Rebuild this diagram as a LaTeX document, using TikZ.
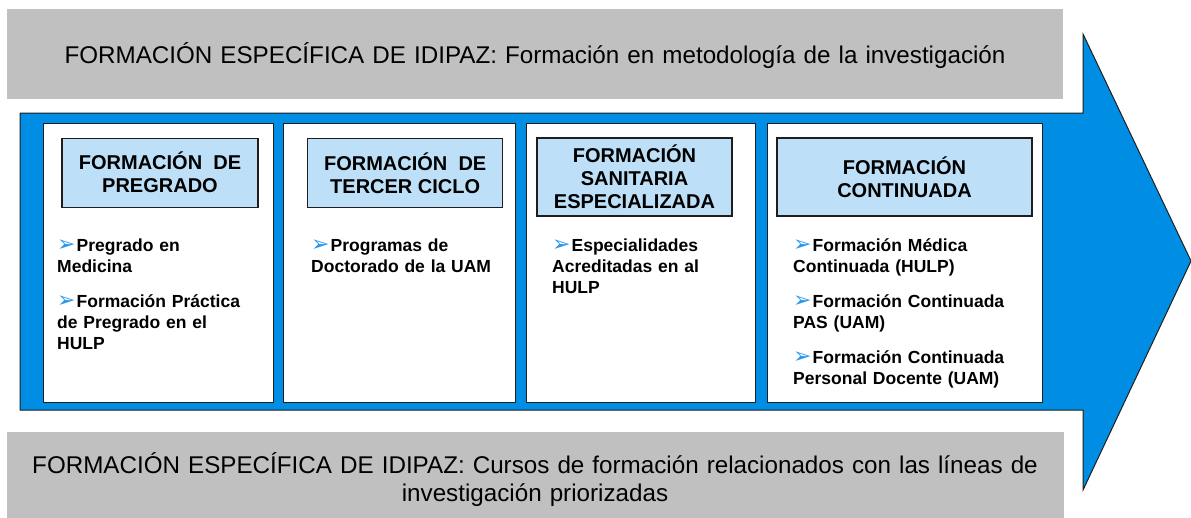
\documentclass[tikz,border=0pt]{standalone}
\usepackage{fontspec}
\setmainfont{Liberation Sans}
\newfontfamily\dejavu{DejaVu Sans}
\definecolor{arrowblue}{RGB}{0,142,228}
\definecolor{hdrblue}{RGB}{189,224,248}
\definecolor{bargray}{RGB}{192,192,192}
\definecolor{bulblue}{RGB}{40,150,235}
\definecolor{edge}{RGB}{30,30,30}
\newcommand{\bulmark}{{\dejavu\fontsize{22}{21}\selectfont\textcolor{bulblue}{➢}}\hspace{1pt}}
\tikzset{
  bar/.style={fill=bargray, draw=none, anchor=north west, inner sep=0},
  bartext/.style={anchor=base, inner sep=0, text width=1050pt, align=center,
    font=\fontsize{24.2}{28}\selectfont},
  panel/.style={draw=edge, line width=1.3pt, fill=white, anchor=north west, inner sep=0},
  hdr/.style={draw=edge, line width=1.3pt, fill=hdrblue, inner sep=0, align=center,
    font=\bfseries\fontsize{20}{23}\selectfont},
  bultext/.style={anchor=base west, inner sep=0, text width=250pt, align=left,
    font=\bfseries\fontsize{17.5}{21}\selectfont}
}
\begin{document}
\begin{tikzpicture}[x=1pt,y=-1pt]
\useasboundingbox (0,0) rectangle (1191,517);
% gray bars
\node[bar, minimum width=1056pt, minimum height=90pt] (topbar) at (7,9) {};
\node[bar, minimum width=1057pt, minimum height=86pt] (botbar) at (7,432) {};
\node[bartext] (toptext) at (535,63.5) {FORMACIÓN ESPECÍFICA DE IDIPAZ: Formación en metodología de la investigación};
\node[bartext] (bottext) at (535,473.3) {FORMACIÓN ESPECÍFICA DE IDIPAZ: Cursos de formación relacionados con las líneas de\\investigación priorizadas};
% arrow
\draw[fill=arrowblue, draw=edge, line width=1pt, line join=miter]
  (20,113) -- (1083,113) -- (1083,34) -- (1191,261) -- (1083,490) -- (1083,410) -- (20,410) -- cycle;
% panels
\node[panel, minimum width=230pt, minimum height=279pt] (p1) at (43,123) {};
\node[panel, minimum width=232pt, minimum height=279pt] (p2) at (283,123) {};
\node[panel, minimum width=229pt, minimum height=279pt] (p3) at (526,123) {};
\node[panel, minimum width=275pt, minimum height=279pt] (p4) at (767,123) {};
% headers
\node[hdr, minimum width=196pt, minimum height=69pt] (h1) at (160,172.7) {FORMACIÓN\ \ DE\\PREGRADO};
\node[hdr, minimum width=195pt, minimum height=69pt] (h2) at (405.2,172.8) {FORMACIÓN\ \ DE\\TERCER CICLO};
\node[hdr, minimum width=195pt, minimum height=78pt] (h3) at (634.5,177) {FORMACIÓN\\SANITARIA\\ESPECIALIZADA};
\node[hdr, minimum width=255pt, minimum height=78pt] (h4) at (904.5,177) {FORMACIÓN\\CONTINUADA};
% bullet texts
\node[bultext] (b1) at (57,251) {\bulmark Pregrado en\\Medicina\\[14pt]\bulmark Formación Práctica\\de Pregrado en el\\HULP};
\node[bultext] (b2) at (311,251) {\bulmark Programas de\\Doctorado de la UAM};
\node[bultext] (b3) at (552,251) {\bulmark Especialidades\\Acreditadas en al\\HULP};
\node[bultext] (b4) at (793,251) {\bulmark Formación Médica\\Continuada (HULP)\\[14pt]\bulmark Formación Continuada\\PAS (UAM)\\[14pt]\bulmark Formación Continuada\\Personal Docente (UAM)};
\end{tikzpicture}
\end{document}
